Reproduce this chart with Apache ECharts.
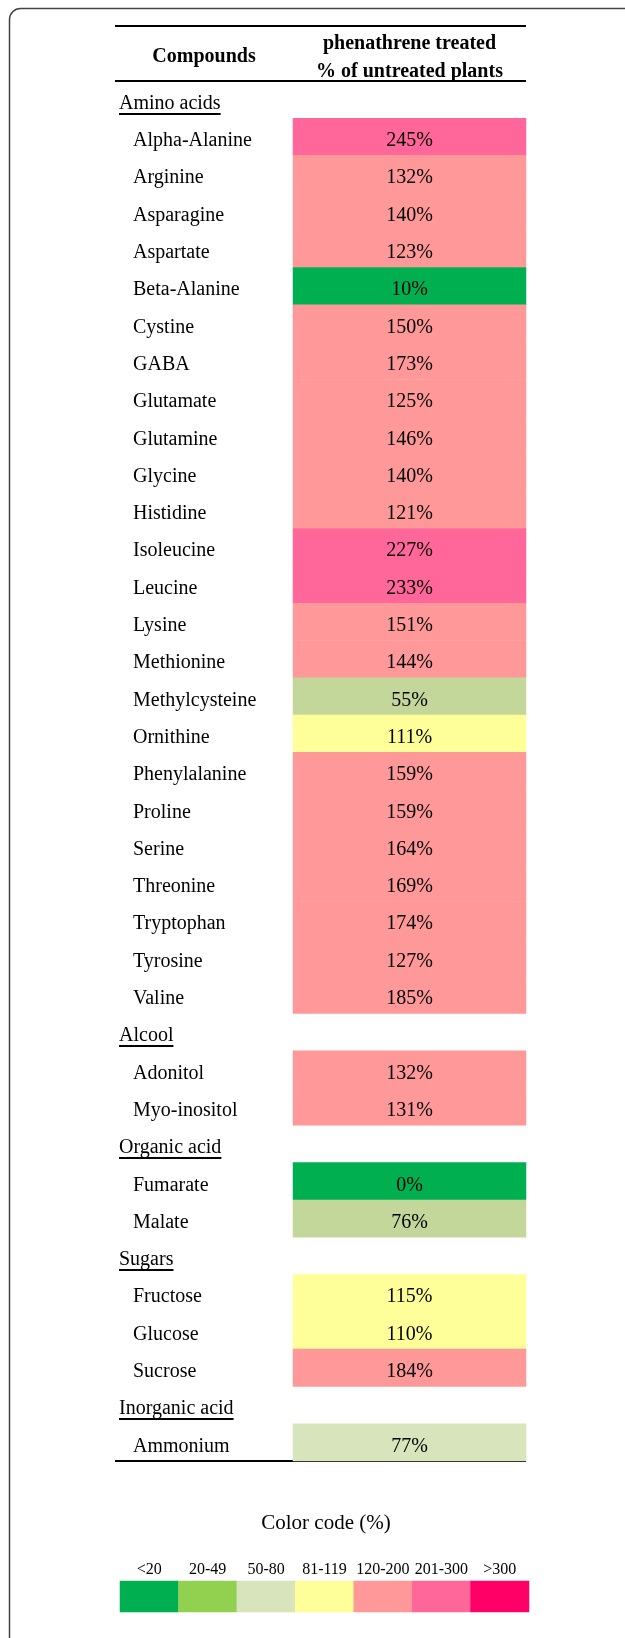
<!DOCTYPE html>
<html>
<head>
<meta charset="utf-8">
<script src="https://cdn.jsdelivr.net/npm/echarts@6/dist/echarts.min.js"></script>
<style>
  html, body { margin: 0; padding: 0; background: #fff; }
  #chart { width: 625px; height: 1638px; }
</style>
</head>
<body>
<div id="chart"></div>
<script>
// group headings and their compounds / values (% of untreated plants)
const groups = ['Amino acids', 'Alcool', 'Organic acid', 'Sugars', 'Inorganic acid'];
const aminoAcids = ['Alpha-Alanine', 'Arginine', 'Asparagine', 'Aspartate', 'Beta-Alanine', 'Cystine', 'GABA',
  'Glutamate', 'Glutamine', 'Glycine', 'Histidine', 'Isoleucine', 'Leucine', 'Lysine', 'Methionine',
  'Methylcysteine', 'Ornithine', 'Phenylalanine', 'Proline', 'Serine', 'Threonine', 'Tryptophan', 'Tyrosine', 'Valine'];
const aminoValues = [245, 132, 140, 123, 10, 150, 173, 125, 146, 140, 121, 227, 233, 151, 144, 55, 111, 159, 159, 164, 169, 174, 127, 185];
const alcools = ['Adonitol', 'Myo-inositol'];
const alcoolValues = [132, 131];
const organicAcids = ['Fumarate', 'Malate'];
const organicValues = [0, 76];
const sugars = ['Fructose', 'Glucose', 'Sucrose'];
const sugarValues = [115, 110, 184];
const inorganicAcids = ['Ammonium'];
const inorganicValues = [77];

// colour code
const codeLabels = ['<20', '20-49', '50-80', '81-119', '120-200', '201-300', '>300'];
const codeUpper = [19, 49, 80, 119, 200, 300, Infinity];
const codeColors = ['#00B050', '#92D050', '#D8E4BC', '#FFFF99', '#FF9999', '#FF6699', '#FF0066'];
// cells shaded darker than the code in the original table
const shadeOverride = { 'Methylcysteine': '#C4D79B', 'Malate': '#C4D79B' };

const header = 'phenathrene treated\n% of untreated plants';
const serif = '"Liberation Serif", "Times New Roman", serif';

const groupItems = [aminoAcids, alcools, organicAcids, sugars, inorganicAcids];
const groupValues = [aminoValues, alcoolValues, organicValues, sugarValues, inorganicValues];

const colorFor = (name, v) => {
  if (shadeOverride[name]) return shadeOverride[name];
  for (let i = 0; i < codeUpper.length; i++) {
    if (v <= codeUpper[i]) return codeColors[i];
  }
  return codeColors[codeColors.length - 1];
};

const rows = [];
const cells = [];
groups.forEach((g, gi) => {
  rows.push(g);
  groupItems[gi].forEach((name, i) => {
    const v = groupValues[gi][i];
    cells.push({ value: [0, rows.length, v], itemStyle: { color: colorFor(name, v) } });
    rows.push(name);
  });
});

const chart = echarts.init(document.getElementById('chart'));

const tableLeft = 115, tableRight = 526;
const rule = (id, y) => ({
  type: 'line', id: id, silent: true,
  shape: { x1: tableLeft, y1: y, x2: tableRight, y2: y },
  style: { stroke: '#000', lineWidth: 2 }
});

const baseGraphics = [
  {
    type: 'rect', id: 'frame', silent: true,
    shape: { x: 9.5, y: 8.5, width: 700, height: 1700, r: 11 },
    style: { fill: 'none', stroke: '#444', lineWidth: 1.5 }
  },
  rule('r1', 26), rule('r2', 81), rule('r3', 1461),
  {
    type: 'text', id: 'compounds', x: 204, y: 57,
    style: { text: 'Compounds', fontFamily: serif, fontSize: 20, fontWeight: 'bold', fill: '#000', align: 'center', verticalAlign: 'middle' }
  },
  {
    type: 'text', id: 'codeTitle', x: 326, y: 1523,
    style: { text: 'Color code (%)', fontFamily: serif, fontSize: 21, fill: '#000', align: 'center', verticalAlign: 'middle' }
  }
];

chart.setOption({
  animation: false,
  backgroundColor: '#fff',
  grid: [
    { left: 293, right: 99, top: 81, bottom: 177 },
    { left: 120, right: 96, top: 1581, height: 31 }
  ],
  xAxis: [
    {
      type: 'category', gridIndex: 0, position: 'top', data: [header],
      axisLine: { show: false }, axisTick: { show: false }, splitLine: { show: false },
      axisLabel: { fontFamily: serif, fontSize: 20, fontWeight: 'bold', color: '#000', lineHeight: 28, margin: -5 }
    },
    {
      type: 'category', gridIndex: 1, position: 'top', data: codeLabels,
      axisLine: { show: false }, axisTick: { show: false }, splitLine: { show: false },
      axisLabel: { fontFamily: serif, fontSize: 16, color: '#000', margin: 3, interval: 0 }
    }
  ],
  yAxis: [
    {
      type: 'category', gridIndex: 0, inverse: true, data: rows,
      axisLine: { show: false }, axisTick: { show: false }, splitLine: { show: false },
      axisLabel: {
        align: 'left', margin: 174, interval: 0,
        formatter: v => (groups.includes(v) ? '{g|' + v + '}' : '{c|' + v + '}'),
        rich: {
          g: { fontFamily: serif, fontSize: 20, color: '#000', padding: [8, 0, 0, 0] },
          c: { fontFamily: serif, fontSize: 20, color: '#000', padding: [8, 0, 0, 14] }
        }
      }
    },
    {
      type: 'category', gridIndex: 1, data: ['code'], show: false
    }
  ],
  series: [
    {
      type: 'heatmap', xAxisIndex: 0, yAxisIndex: 0, data: cells,
      itemStyle: { borderWidth: 0 },
      label: {
        show: true, fontFamily: serif, fontSize: 20, color: '#000', offset: [0, 4],
        formatter: p => p.value[2] + '%'
      },
      emphasis: { disabled: true }
    },
    {
      type: 'heatmap', xAxisIndex: 1, yAxisIndex: 1,
      data: codeLabels.map((l, i) => ({ value: [i, 0, i], itemStyle: { color: codeColors[i] } })),
      itemStyle: { borderWidth: 0 },
      emphasis: { disabled: true }
    }
  ],
  graphic: baseGraphics
});

// underline the group headings, placed through the y axis scale
const ctx = document.createElement('canvas').getContext('2d');
ctx.font = '20px ' + serif;
const underlines = groups.map((g, i) => {
  const y = Math.round(chart.convertToPixel({ yAxisIndex: 0 }, g)) + 14;
  const w = ctx.measureText(g).width;
  return {
    type: 'line', id: 'ul' + i, silent: true,
    shape: { x1: 119, y1: y, x2: 119 + w, y2: y },
    style: { stroke: '#000', lineWidth: 2 }
  };
});
chart.setOption({ graphic: baseGraphics.concat(underlines) });

window.addEventListener('resize', () => chart.resize());
</script>
</body>
</html>
